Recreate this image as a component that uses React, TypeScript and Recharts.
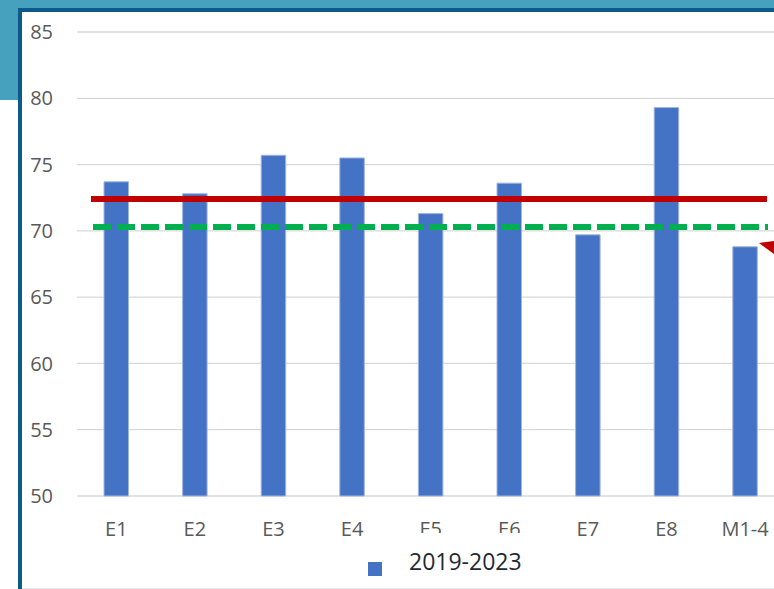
import { BarChart, Bar, XAxis, YAxis, CartesianGrid, ReferenceLine, Legend } from "recharts";

const categories = ["E1", "E2", "E3", "E4", "E5", "E6", "E7", "E8", "M1-4"];
const scores = [73.7, 72.8, 75.7, 75.5, 71.3, 73.6, 69.7, 79.3, 68.8];
const yTicks = [50, 55, 60, 65, 70, 75, 80, 85];
const redLevel = 72.4;
const greenLevel = 70.3;
const seriesName = "2019-2023";

const chartData = categories.map((name, i) => ({ name, score: scores[i] }));

const FONT = '"Open Sans", "DejaVu Sans", sans-serif';

// shorten a reference line a little on both ends, like the drawn shapes on the slide
const trimmedLine = (left: number, right: number) => (p: any) => (
  <line
    x1={p.x1 + left}
    y1={p.y1}
    x2={p.x2 - right}
    y2={p.y2}
    stroke={p.stroke}
    strokeWidth={p.strokeWidth}
    strokeDasharray={p.strokeDasharray}
  />
);

const LegendBox = () => (
  <div style={{ position: "relative", height: 0 }}>
    <div style={{ position: "absolute", left: 368, top: 562, width: 14, height: 14, background: "#4472C4" }} />
    <div
      style={{
        position: "absolute",
        left: 388,
        top: 533,
        width: 179,
        height: 55,
        background: "#ffffff",
      }}
    >
      <span
        style={{
          position: "absolute",
          left: 21,
          top: 12,
          fontFamily: FONT,
          fontSize: 23,
          color: "#1e2b33",
          whiteSpace: "nowrap",
        }}
      >
        {seriesName}
      </span>
    </div>
  </div>
);

export default function App() {
  return (
    <div
      style={{
        position: "absolute",
        left: 0,
        top: 0,
        width: 774,
        height: 589,
        overflow: "hidden",
        background: "#ffffff",
      }}
    >
      {/* slide background and frame */}
      <div style={{ position: "absolute", left: 0, top: 0, width: 774, height: 8, background: "#46A1BE" }} />
      <div style={{ position: "absolute", left: 0, top: 0, width: 18, height: 100, background: "#46A1BE" }} />
      <div style={{ position: "absolute", left: 18, top: 8, width: 756, height: 4, background: "#0C5A8A" }} />
      <div style={{ position: "absolute", left: 18, top: 8, width: 4, height: 581, background: "#0C5A8A" }} />
      <div style={{ position: "absolute", left: 22, top: 588, width: 752, height: 1, background: "#e4edf1" }} />

      <div style={{ position: "absolute", left: 0, top: 0 }}>
        <BarChart
          width={800}
          height={589}
          data={chartData}
          margin={{ top: 32, right: 15.6, left: 0, bottom: 63 }}
        >
          <CartesianGrid vertical={false} stroke="#d9d9d9" strokeWidth={1.3} />
          <XAxis
            dataKey="name"
            height={30}
            axisLine={false}
            tickLine={false}
            tickSize={0}
            tickMargin={26}
            tick={{ fill: "#595959", fontSize: 20, fontFamily: FONT }}
            interval={0}
          />
          <YAxis
            width={77}
            domain={[50, 85]}
            ticks={yTicks}
            axisLine={false}
            tickLine={false}
            tickSize={0}
            tickMargin={24}
            tick={{ fill: "#595959", fontSize: 20, fontFamily: FONT }}
          />
          <Bar
            dataKey="score"
            name={seriesName}
            fill="#4472C4"
            stroke="#9fb6e2"
            strokeWidth={1}
            barSize={24.5}
            isAnimationActive={false}
          />
          <ReferenceLine
            y={redLevel}
            stroke="#C00000"
            strokeWidth={6}
            shape={trimmedLine(14, 17.4)}
          />
          <ReferenceLine
            y={greenLevel}
            stroke="#00B050"
            strokeWidth={6}
            strokeDasharray="18 6"
            shape={trimmedLine(16, 16.4)}
          />
          <Legend
            content={() => <LegendBox />}
            wrapperStyle={{ left: 0, top: 0, bottom: "auto", width: 800, height: 0 }}
          />
        </BarChart>
      </div>

      {/* arrow tip poking in at the right edge */}
      <svg style={{ position: "absolute", left: 0, top: 0 }} width={774} height={589}>
        <polygon points="759,243 774,241 774,254" fill="#C00000" />
      </svg>
    </div>
  );
}
